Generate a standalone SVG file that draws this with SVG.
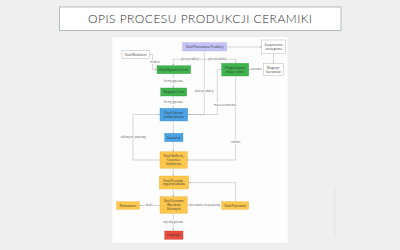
<svg xmlns="http://www.w3.org/2000/svg" width="400" height="250" viewBox="0 0 400 250">
<defs>
<style>
.t{font-family:"Open Sans","Liberation Sans",sans-serif;font-size:3px;fill:#333;text-anchor:middle}
.l{font-family:"Open Sans","Liberation Sans",sans-serif;font-size:2.8px;fill:#555;text-anchor:middle;stroke:#fff;stroke-width:1.6px;paint-order:stroke}
.c{fill:none;stroke:#a8a8a8;stroke-width:0.45}
.w{fill:#fff;stroke:#999;stroke-width:0.35}
.p{fill:#c3c3f7;stroke:#a0a0e6;stroke-width:0.35}
.g{fill:#3fb34d;stroke:#2f9a3c;stroke-width:0.35}
.b{fill:#4aa3e6;stroke:#3a8bcc;stroke-width:0.35}
.y{fill:#fcc74c;stroke:#e6ad33;stroke-width:0.35}
.r{fill:#e94b3c;stroke:#c93a2e;stroke-width:0.35}
</style>
<marker id="a" viewBox="0 0 4 4" refX="4" refY="2" markerWidth="1.8" markerHeight="1.8" markerUnits="userSpaceOnUse" orient="auto"><path d="M0,0L4,2L0,4z" fill="#a8a8a8"/></marker>
</defs>
<rect width="400" height="250" fill="#efeff0"/>
<g id="title">
<rect x="59.5" y="7" width="281.5" height="23.5" fill="#fff" stroke="#a3adb5" stroke-width="0.8"/>
<text x="200" y="23" font-family="Lato,'Open Sans',sans-serif" font-weight="300" font-size="12" fill="#2e2e2e" text-anchor="middle" textLength="224" lengthAdjust="spacing">OPIS PROCESU PRODUKCJI CERAMIKI</text>
</g>
<rect x="112" y="36.7" width="176" height="206.6" fill="#fdfdfd" stroke="#e4e4e4" stroke-width="0.4"/>
<line x1="335" y1="187" x2="335" y2="235" stroke="#dedede" stroke-width="0.8"/>
<g id="connectors">
<path class="c" d="M226.7,47H261.7" marker-end="url(#a)"/>
<path class="c" d="M273.5,53.3V63.3" marker-end="url(#a)"/>
<path class="c" d="M263.3,69.5H248.7" marker-end="url(#a)"/>
<path class="c" d="M149.3,54.5H152.5V69.7H157" marker-end="url(#a)"/>
<path class="c" d="M204.3,51V59.3H173.3V65.7" marker-end="url(#a)"/>
<path class="c" d="M204.3,59.3H235.7V63.3" marker-end="url(#a)"/>
<path class="c" d="M204.3,59.3V114.5H187.7" marker-end="url(#a)"/>
<path class="c" d="M221.7,69.5H217.3V114.5H187.7" marker-end="url(#a)"/>
<path class="c" d="M173.3,73.7V88" marker-end="url(#a)"/>
<path class="c" d="M173.3,96V108.3" marker-end="url(#a)"/>
<path class="c" d="M173.3,121V133.3" marker-end="url(#a)"/>
<path class="c" d="M173.3,141.7V151.7" marker-end="url(#a)"/>
<path class="c" d="M160,160H133V114.5H160" marker-end="url(#a)"/>
<path class="c" d="M235.7,76V160H187.3" marker-end="url(#a)"/>
<path class="c" d="M173.3,168.3V176" marker-end="url(#a)"/>
<path class="c" d="M173.3,189V196.7" marker-end="url(#a)"/>
<path class="c" d="M160,205.5H139.3" marker-end="url(#a)"/>
<path class="c" d="M187.3,205.5H221.7" marker-end="url(#a)"/>
<path class="c" d="M235.7,201.7V182.7H188.7" marker-end="url(#a)"/>
<path class="c" d="M173.3,213.3V231" marker-end="url(#a)"/>
<text class="l" x="155" y="62.6">modele</text>
<text class="l" x="190" y="60.3">plan produkcji</text>
<text class="l" x="217.5" y="60.3">plan produkcji</text>
<text class="l" x="204.3" y="91.6">plan produkcji</text>
<text class="l" x="225" y="106.2">masa ceramiczna</text>
<text class="l" x="256.5" y="70.4">surowce</text>
<text class="l" x="173.5" y="81.6">formy gipsowe</text>
<text class="l" x="173.5" y="103.2">formy gipsowe</text>
<text class="l" x="133.3" y="138.2">odlewy do poprawy</text>
<text class="l" x="235.7" y="142.6">szkliwo</text>
<text class="l" x="149.2" y="206.4">braki</text>
<text class="l" x="204.3" y="206.4">skierowane na poprawę</text>
<text class="l" x="173.5" y="223.2">wyroby gotowe</text>
</g>
<g id="planowanie"><rect class="p" x="182.7" y="42.7" width="44" height="8.3"/><text class="t" x="204.7" y="48">Dział Planowania Produkcji</text></g>
<g id="zaopatrzenie"><rect class="w" x="261.7" y="40" width="24" height="13.3"/><text class="t" x="273.7" y="45.8">Zaopatrzenie</text><text class="t" x="273.7" y="49.6">strategiczne</text></g>
<g id="magazyn-surowcow"><rect class="w" x="263.3" y="63.3" width="20" height="12.4"/><text class="t" x="273.3" y="68.8">Magazyn</text><text class="t" x="273.3" y="72.6">Surowców</text></g>
<g id="modelarnia"><rect class="w" x="122" y="50.7" width="27.3" height="7.6"/><text class="t" x="135.7" y="55.5">Dział Modelarni</text></g>
<g id="wytwornia-form"><rect class="g" x="157" y="65.7" width="33.7" height="8"/><text class="t" x="173.8" y="70.7">Dział Wytwórni Form</text></g>
<g id="przygotowanie"><rect class="g" x="221.7" y="63.3" width="27" height="12.7"/><text class="t" x="235.2" y="68.8">Przygotowanie</text><text class="t" x="235.2" y="72.6">masy i szkliw</text></g>
<g id="magazyn-form"><rect class="g" x="160.7" y="88" width="26" height="8"/><text class="t" x="173.7" y="93">Magazyn Form</text></g>
<g id="odlewnia"><rect class="b" x="160" y="108.3" width="27.7" height="12.7"/><text class="t" x="173.8" y="113.8">Dział Odlewni</text><text class="t" x="173.8" y="117.6">półfabrykatów</text></g>
<g id="suszarnia"><rect class="b" x="164.7" y="133.3" width="18.3" height="8.4"/><text class="t" x="173.8" y="138.5">Suszarnia</text></g>
<g id="szlifiernia"><rect class="y" x="160" y="151.7" width="27.3" height="16.6"/><text class="t" x="173.7" y="157.3">Dział Szlifierni,</text><text class="t" x="173.7" y="161.1">Toczenia i</text><text class="t" x="173.7" y="164.9">Szkliwienia</text></g>
<g id="piecownia"><rect class="y" x="159.3" y="176" width="29.4" height="13"/><text class="t" x="174" y="181.6">Dział Piecowni -</text><text class="t" x="174" y="185.4">wypał produktu</text></g>
<g id="sortownia"><rect class="y" x="160" y="196.7" width="27.3" height="16.6"/><text class="t" x="173.7" y="202.3">Dział Sortowni</text><text class="t" x="173.7" y="206.1">Wyrobów</text><text class="t" x="173.7" y="209.9">Gotowych</text></g>
<g id="poprawki"><rect class="y" x="221.7" y="201.7" width="27" height="7.6"/><text class="t" x="235.2" y="206.5">Dział Poprawek</text></g>
<g id="zlomowanie"><rect class="y" x="116.7" y="201.7" width="22.6" height="7.6"/><text class="t" x="128" y="206.5">Złomowanie</text></g>
<g id="logistyka"><rect class="r" x="164.7" y="231" width="18.3" height="8.3"/><text class="t" x="173.8" y="236.2">Logistyka</text></g>
</svg>
